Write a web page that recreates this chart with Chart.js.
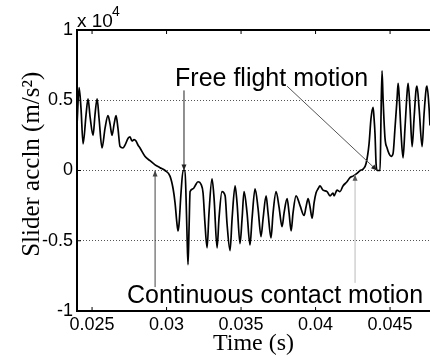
<!DOCTYPE html>
<html lang="en">
<head>
<meta charset="utf-8"/>
<title>Slider acceleration</title>
<script src="https://cdn.jsdelivr.net/npm/chart.js"></script>
<style>
  body { margin: 0; background: #fff; overflow: hidden; }
  canvas { display: block; }
</style>
</head>
<body>
<canvas id="acclnChart" width="430" height="356"></canvas>
<script>
  // time (s) and slider acceleration (x 10^4 m/s^2)
  const time = [
    0.02399, 0.02413, 0.02426, 0.02440, 0.02460, 0.02473, 0.02487, 0.02507, 0.02520, 0.02534,
    0.02547, 0.02567, 0.02587, 0.02607, 0.02621, 0.02634, 0.02648, 0.02661, 0.02674, 0.02688,
    0.02708, 0.02721, 0.02742, 0.02755, 0.02768, 0.02782, 0.02795, 0.02809, 0.02822, 0.02856,
    0.02889, 0.02923, 0.02956, 0.02990, 0.03023, 0.03044, 0.03057, 0.03070, 0.03077, 0.03084,
    0.03097, 0.03111, 0.03124, 0.03131, 0.03138, 0.03144, 0.03151, 0.03158, 0.03178, 0.03191,
    0.03211, 0.03232, 0.03245, 0.03258, 0.03272, 0.03285, 0.03305, 0.03319, 0.03339, 0.03352,
    0.03372, 0.03393, 0.03406, 0.03426, 0.03440, 0.03460, 0.03473, 0.03493, 0.03507, 0.03520,
    0.03540, 0.03560, 0.03574, 0.03594, 0.03614, 0.03634, 0.03648, 0.03668, 0.03681, 0.03701,
    0.03715, 0.03735, 0.03755, 0.03775, 0.03789, 0.03809, 0.03822, 0.03836, 0.03849, 0.03869,
    0.03896, 0.03923, 0.03936, 0.03950, 0.03963, 0.03977, 0.03990, 0.04003, 0.04017, 0.04030,
    0.04050, 0.04077, 0.04097, 0.04117, 0.04124, 0.04144, 0.04164, 0.04184, 0.04211, 0.04231,
    0.04251, 0.04278, 0.04299, 0.04319, 0.04339, 0.04359, 0.04372, 0.04386, 0.04392, 0.04399,
    0.04406, 0.04413, 0.04433, 0.04439, 0.04446, 0.04453, 0.04466, 0.04480, 0.04493, 0.04507,
    0.04520, 0.04533, 0.04547, 0.04554, 0.04560, 0.04574, 0.04587, 0.04600, 0.04614, 0.04621,
    0.04634, 0.04648, 0.04661, 0.04674, 0.04681, 0.04695, 0.04715, 0.04728, 0.04742, 0.04748,
    0.04762, 0.04768
  ];
  const accln = [
    0.32, 0.59, 0.44, 0.19, 0.40, 0.51, 0.38, 0.25, 0.40, 0.51,
    0.37, 0.16, 0.30, 0.39, 0.33, 0.25, 0.33, 0.39, 0.30, 0.17,
    0.16, 0.18, 0.23, 0.24, 0.21, 0.22, 0.21, 0.18, 0.16, 0.10,
    0.07, 0.04, 0.02, 0.00, -0.04, -0.13, -0.23, -0.38, -0.43, -0.38,
    -0.16, 0.00, 0.00, -0.20, -0.48, -0.67, -0.41, -0.15, -0.13, -0.11,
    -0.08, -0.10, -0.16, -0.38, -0.55, -0.30, -0.06, -0.20, -0.55, -0.34,
    -0.15, -0.18, -0.38, -0.57, -0.34, -0.11, -0.23, -0.52, -0.34, -0.15,
    -0.30, -0.53, -0.34, -0.13, -0.27, -0.47, -0.34, -0.18, -0.30, -0.48,
    -0.30, -0.15, -0.26, -0.40, -0.30, -0.20, -0.30, -0.43, -0.30, -0.18,
    -0.25, -0.32, -0.26, -0.20, -0.26, -0.34, -0.23, -0.16, -0.13, -0.11,
    -0.14, -0.15, -0.18, -0.16, -0.18, -0.14, -0.15, -0.11, -0.08, -0.05,
    -0.04, -0.02, 0.00, 0.01, 0.05, 0.19, 0.37, 0.45, 0.38, 0.26,
    0.05, 0.00, 0.00, 0.37, 0.71, 0.51, 0.23, 0.16, 0.12, 0.10,
    0.12, 0.30, 0.51, 0.62, 0.55, 0.26, 0.09, 0.30, 0.55, 0.62,
    0.44, 0.17, 0.37, 0.57, 0.60, 0.44, 0.17, 0.40, 0.58, 0.60,
    0.44, 0.32
  ];

  const xTicks = [0.025, 0.03, 0.035, 0.04, 0.045];
  const xTickLabels = ['0.025', '0.03', '0.035', '0.04', '0.045'];
  const yTicks = [-1, -0.5, 0, 0.5, 1];
  const yTickLabels = ['-1', '-0.5', '0', '0.5', '1'];
  const yGrid = [-0.5, 0, 0.5];

  const sans = "'Liberation Sans', Arial, sans-serif";
  const serif = "'Liberation Serif', 'Times New Roman', serif";

  function arrow(ctx, x1, y1, x2, y2) {
    ctx.beginPath();
    ctx.moveTo(x1, y1);
    ctx.lineTo(x2, y2);
    ctx.stroke();
    const a = Math.atan2(y2 - y1, x2 - x1);
    ctx.beginPath();
    ctx.moveTo(x2, y2);
    ctx.lineTo(x2 - 6 * Math.cos(a) + 2.5 * Math.sin(a), y2 - 6 * Math.sin(a) - 2.5 * Math.cos(a));
    ctx.lineTo(x2 - 6 * Math.cos(a) - 2.5 * Math.sin(a), y2 - 6 * Math.sin(a) + 2.5 * Math.cos(a));
    ctx.closePath();
    ctx.fill();
  }

  // frame, inner ticks, exponent and the two annotations
  const decorations = {
    id: 'decorations',
    afterDraw(chart) {
      const ctx = chart.ctx;
      const xs = chart.scales.x, ys = chart.scales.y;
      const area = chart.chartArea;
      const px = v => xs.getPixelForValue(v);
      const py = v => ys.getPixelForValue(v);
      ctx.save();
      ctx.strokeStyle = '#000';
      ctx.fillStyle = '#000';
      ctx.lineWidth = 2;
      ctx.beginPath();
      ctx.moveTo(area.right, area.top);
      ctx.lineTo(area.left, area.top);
      ctx.lineTo(area.left, area.bottom);
      ctx.lineTo(area.right, area.bottom);
      ctx.stroke();

      ctx.lineWidth = 1;
      ctx.beginPath();
      xTicks.forEach(v => {
        ctx.moveTo(px(v), area.bottom);
        ctx.lineTo(px(v), area.bottom - 4);
        ctx.moveTo(px(v), area.top);
        ctx.lineTo(px(v), area.top + 4);
      });
      yTicks.forEach(v => {
        ctx.moveTo(area.left, py(v));
        ctx.lineTo(area.left + 4, py(v));
      });
      ctx.stroke();

      // x 10^4
      ctx.textAlign = 'left';
      ctx.textBaseline = 'alphabetic';
      ctx.font = '19px ' + sans;
      ctx.fillText('x 10', area.left, area.top - 3);
      ctx.font = '14px ' + sans;
      ctx.fillText('4', area.left + 35, area.top - 14);

      // Free flight motion
      ctx.font = '25px ' + sans;
      ctx.fillText('Free flight motion', px(0.03057), py(0.60));
      ctx.strokeStyle = '#222';
      ctx.fillStyle = '#222';
      ctx.lineWidth = 1;
      arrow(ctx, px(0.03117), py(0.57), px(0.03117), py(0.0));
      ctx.strokeStyle = '#555';
      arrow(ctx, px(0.03809), py(0.60), px(0.04413), py(0.0));

      // Continuous contact motion
      ctx.fillStyle = '#000';
      ctx.fillText('Continuous contact motion', px(0.02735), py(-0.943));
      ctx.strokeStyle = '#444';
      ctx.fillStyle = '#444';
      arrow(ctx, px(0.02923), py(-0.83), px(0.02923), py(0.0));
      ctx.strokeStyle = '#bbb';
      ctx.fillStyle = '#555';
      arrow(ctx, px(0.04265), py(-0.80), px(0.04265), py(-0.03));
      ctx.restore();
    }
  };

  const ctx = document.getElementById('acclnChart').getContext('2d');
  new Chart(ctx, {
    type: 'line',
    data: {
      labels: time,
      datasets: [{
        data: time.map((t, i) => ({ x: t, y: accln[i] })),
        borderColor: '#000',
        borderWidth: 1.7,
        pointRadius: 0,
        cubicInterpolationMode: 'monotone',
        fill: false
      }]
    },
    options: {
      responsive: false,
      animation: false,
      layout: { padding: { top: 30, right: 0, left: 0, bottom: 0 } },
      plugins: { legend: { display: false }, tooltip: { enabled: false } },
      scales: {
        x: {
          type: 'linear',
          min: 0.02399,
          max: 0.04768,
          afterBuildTicks: s => { s.ticks = xTicks.map(v => ({ value: v })); },
          afterFit: s => { s.height = 45; },
          ticks: {
            autoSkip: false,
            maxRotation: 0,
            padding: 5,
            color: '#000',
            font: { family: sans, size: 18, lineHeight: 1 },
            callback: v => xTickLabels[xTicks.indexOf(v)]
          },
          grid: { display: false, drawTicks: false },
          border: { display: false },
          title: {
            display: true,
            text: 'Time (s)',
            color: '#000',
            font: { family: serif, size: 24, lineHeight: 1 },
            padding: { top: 0, bottom: 0 }
          }
        },
        y: {
          min: -1,
          max: 1,
          afterBuildTicks: s => { s.ticks = yTicks.map(v => ({ value: v })); },
          afterFit: s => { s.width = 77; },
          ticks: {
            autoSkip: false,
            padding: 4,
            color: '#000',
            font: { family: sans, size: 18, lineHeight: 1 },
            callback: v => yTickLabels[yTicks.indexOf(v)]
          },
          grid: {
            drawTicks: false,
            color: c => yGrid.includes(c.tick && c.tick.value) ? '#555' : 'rgba(0,0,0,0)',
            lineWidth: 1
          },
          border: { display: false, dash: [1, 2] },
          title: {
            display: true,
            text: '\u2002Slider accln (m/s²)',
            color: '#000',
            font: { family: serif, size: 25, lineHeight: 1 },
            padding: { top: 20, bottom: 0 }
          }
        }
      }
    },
    plugins: [decorations]
  });
</script>
</body>
</html>
